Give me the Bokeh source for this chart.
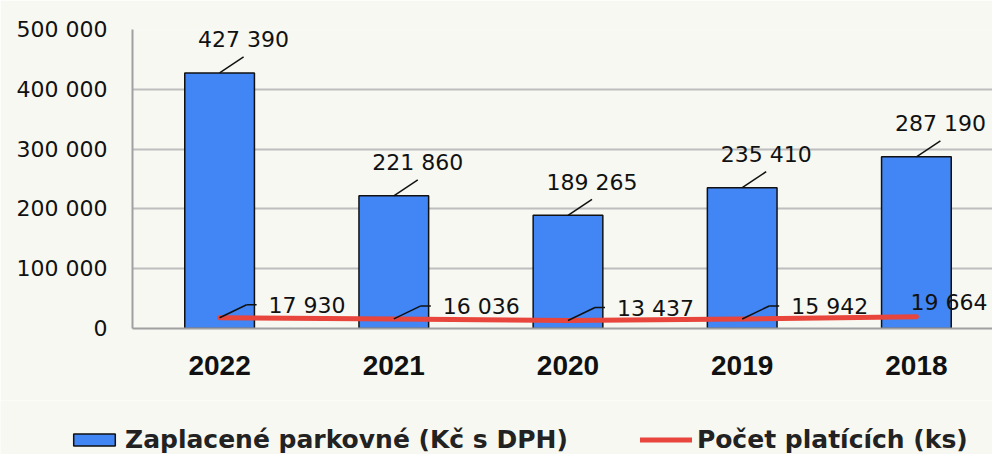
from bokeh.plotting import figure
from bokeh.layouts import column, row
from bokeh.models import Range1d, FixedTicker, Legend, LegendItem
from bokeh.core.properties import value
from bokeh.embed import file_html
from bokeh.resources import INLINE

# ---- data ----
years = ["2022", "2021", "2020", "2019", "2018"]
paid = [427390, 221860, 189265, 235410, 287190]          # Zaplacené parkovné (Kč s DPH)
payers = [17930, 16036, 13437, 15942, 19664]              # Počet platících (ks)
y_ticks = [0, 100000, 200000, 300000, 400000, 500000]
y_tick_labels = ["0", "100 000", "200 000", "300 000", "400 000", "500 000"]
bar_name = "Zaplacené parkovné (Kč s DPH)"
line_name = "Počet platících (ks)"

# label layout (leader line for each payer label)
payer_leader = [True, True, True, True, False]


def fmt(v):
    return f"{v:,}".replace(",", " ")


# ---- geometry ----
W = 992
H1, H2 = 400, 54
left_b, top_b = 132, 29
frame_h = 299
bottom_b = H1 - top_b - frame_h
frame_w = W - left_b
unit_px = 174.2
x_start = -0.5
x_end = x_start + frame_w / unit_px
y_max = 500000
ypp = y_max / frame_h          # data units per pixel (y)
xpp = 1.0 / unit_px            # data units per pixel (x)

xs = list(range(len(years)))

bar_style = dict(fill_color="#4285F4", line_color="#111111", line_width=1.5)
line_style = dict(line_color="#E8453C", line_width=5, line_cap="round", line_join="round")
txt = dict(text_font=value("DejaVu Sans"), text_font_size="22px", text_color="#111111")

bg = "#F7F8F2"
p = figure(width=W, height=H1, output_backend="svg", toolbar_location=None,
           x_range=Range1d(x_start, x_end), y_range=Range1d(0, y_max),
           min_border_left=left_b, min_border_top=top_b,
           min_border_bottom=bottom_b, min_border_right=0)
p.background_fill_color = bg
p.border_fill_color = bg
p.outline_line_color = None

# grid
p.xgrid.visible = False
p.ygrid.ticker = FixedTicker(ticks=y_ticks)
p.ygrid.grid_line_color = "#BEBEBE"
p.ygrid.grid_line_width = 2

# axes
p.yaxis.ticker = FixedTicker(ticks=y_ticks)
p.yaxis.major_label_overrides = {t: l for t, l in zip(y_ticks, y_tick_labels)}
p.yaxis.major_tick_line_color = None
p.yaxis.minor_tick_line_color = None
p.yaxis.major_tick_out = 0
p.yaxis.major_label_standoff = 25
p.yaxis.axis_line_color = "#A0A0A0"
p.yaxis.axis_line_width = 2
p.yaxis.major_label_text_font = "DejaVu Sans"
p.yaxis.major_label_text_font_size = "22px"
p.yaxis.major_label_text_color = "#111111"

p.xaxis.ticker = FixedTicker(ticks=xs)
p.xaxis.major_label_overrides = {i: y for i, y in zip(xs, years)}
p.xaxis.major_tick_line_color = None
p.xaxis.minor_tick_line_color = None
p.xaxis.major_tick_out = 0
p.xaxis.major_label_standoff = 27
p.xaxis.axis_line_color = "#A0A0A0"
p.xaxis.axis_line_width = 2
p.xaxis.major_label_text_font = "Liberation Sans"
p.xaxis.major_label_text_font_style = "bold"
p.xaxis.major_label_text_font_size = "28px"
p.xaxis.major_label_text_color = "#111111"

# bars
p.vbar(x=xs, top=paid, width=0.4, bottom=0, **bar_style)

# line
p.line(x=xs, y=payers, **line_style)

# bar labels with leaders
bx0, by0, bx1, by1 = [], [], [], []
tx, ty, tt = [], [], []
for i, v in zip(xs, paid):
    bx0.append(i); by0.append(v)
    bx1.append(i + 24 * xpp); by1.append(v + 16 * ypp)
    tx.append(i + 24 * xpp); ty.append(v + 33 * ypp); tt.append(fmt(v))
p.segment(x0=bx0, y0=by0, x1=bx1, y1=by1, line_color="#111111", line_width=1.5)
p.text(x=tx, y=ty, text=tt, text_align="center", text_baseline="alphabetic", **txt)

# payer labels
sx0, sy0, sx1, sy1 = [], [], [], []
lx, ly, lt = [], [], []
lx2, ly2, lt2 = [], [], []
for i, v, lead in zip(xs, payers, payer_leader):
    if lead:
        ex, ey = i + 27 * xpp, v + 13 * ypp
        sx0 += [i, ex]; sy0 += [v, ey]
        sx1 += [ex, ex + 10 * xpp]; sy1 += [ey, ey]
        lx.append(ex + 22 * xpp); ly.append(ey - 1 * ypp); lt.append(fmt(v))
    else:
        lx2.append(i - 6 * xpp); ly2.append(v + 14 * ypp); lt2.append(fmt(v))
p.segment(x0=sx0, y0=sy0, x1=sx1, y1=sy1, line_color="#111111", line_width=1.5)
p.text(x=lx, y=ly, text=lt, text_align="left", text_baseline="middle", **txt)
p.text(x=lx2, y=ly2, text=lt2, text_align="left", text_baseline="alphabetic", **txt)

# legend strip (separate figure below the chart)
q = figure(width=W, height=H2, output_backend="svg", toolbar_location=None,
           x_range=Range1d(0, 1), y_range=Range1d(0, 1),
           x_axis_type=None, y_axis_type=None,
           min_border_left=0, min_border_right=0, min_border_top=0, min_border_bottom=0)
q.background_fill_color = bg
q.border_fill_color = bg
q.outline_line_color = None
# legend-only renderers (no drawable data)
nan = float("nan")
lb = q.vbar(x=[nan], top=[nan], width=0.4, **bar_style)
ll = q.line(x=[nan, nan], y=[nan, nan], **line_style)
legend = Legend(items=[LegendItem(label=bar_name, renderers=[lb]),
                       LegendItem(label=line_name, renderers=[ll])],
                orientation="horizontal", location=(68, 0),
                padding=0, margin=0, spacing=72, label_standoff=5,
                glyph_width=52, glyph_height=15,
                border_line_alpha=0, background_fill_alpha=0,
                label_text_font="DejaVu Sans", label_text_font_style="bold",
                label_text_font_size="25px", label_text_color="#222222")
q.add_layout(legend)

try:
    p.frame_align = False
    q.frame_align = False
    layout = column(p, q, spacing=0)
except AttributeError:
    layout = column(p, row(q), spacing=0)

open("out.html", "w").write(file_html(layout, INLINE))
